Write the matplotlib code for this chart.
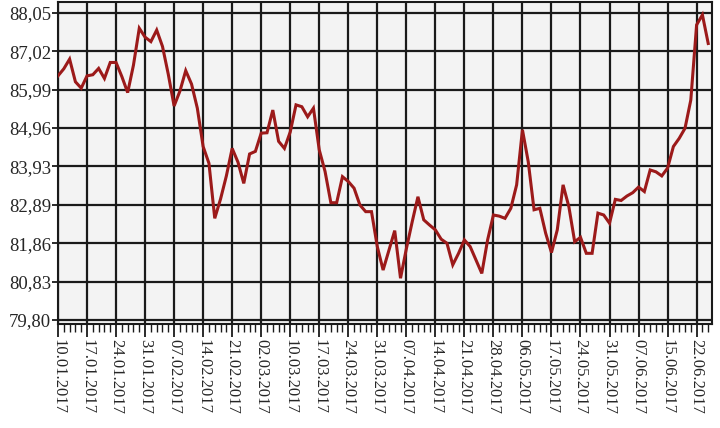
import matplotlib
matplotlib.use("Agg")
import matplotlib.pyplot as plt
from matplotlib.ticker import FixedLocator, MultipleLocator

values = [
    86.36, 86.55, 86.81, 86.20, 86.03, 86.36, 86.39, 86.56, 86.29, 86.72,
    86.72, 86.34, 85.91, 86.65, 87.64, 87.40, 87.28, 87.59, 87.15, 86.40,
    85.55, 85.95, 86.50, 86.14, 85.49, 84.46, 84.01, 82.53, 83.05, 83.67,
    84.41, 84.04, 83.47, 84.26, 84.33, 84.82, 84.83, 85.44, 84.60, 84.41,
    84.85, 85.58, 85.53, 85.26, 85.49, 84.37, 83.79, 82.95, 82.95, 83.65,
    83.52, 83.34, 82.89, 82.71, 82.71, 81.77, 81.14, 81.67, 82.20, 80.92,
    81.71, 82.43, 83.11, 82.49, 82.35, 82.22, 81.97, 81.86, 81.28, 81.59,
    81.95, 81.77, 81.41, 81.05, 81.95, 82.62, 82.59, 82.53, 82.80, 83.43,
    84.91, 84.05, 82.76, 82.80, 82.13, 81.61, 82.22, 83.43, 82.84, 81.90,
    82.02, 81.59, 81.59, 82.67, 82.62, 82.40, 83.04, 83.01, 83.13, 83.22,
    83.37, 83.25, 83.83, 83.78, 83.67, 83.88, 84.46, 84.68, 84.95, 85.71,
    87.73, 88.00, 87.23,
]

date_labels = [
    "10.01.2017", "17.01.2017", "24.01.2017", "31.01.2017", "07.02.2017",
    "14.02.2017", "21.02.2017", "02.03.2017", "10.03.2017", "17.03.2017",
    "24.03.2017", "31.03.2017", "07.04.2017", "14.04.2017", "21.04.2017",
    "28.04.2017", "06.05.2017", "17.05.2017", "24.05.2017", "31.05.2017",
    "07.06.2017", "15.06.2017", "22.06.2017",
]
label_step = 5

y_ticks = [79.80, 80.83, 81.86, 82.89, 83.93, 84.96, 85.99, 87.02, 88.05]
y_tick_labels = ["79,80", "80,83", "81,86", "82,89", "83,93", "84,96",
                 "85,99", "87,02", "88,05"]

fig = plt.figure(figsize=(7.2, 4.28), dpi=100)
ax = fig.add_axes([58 / 720, 1 - 324 / 428, (711.7 - 58) / 720, (324 - 2) / 428])
ax.set_facecolor("#F3F3F3")

x = list(range(len(values)))
major_pos = [i * label_step for i in range(len(date_labels))]

ax.set_xlim(0, 112.6)
ax.set_ylim(79.69, 88.345)

ax.xaxis.set_major_locator(FixedLocator(major_pos))
ax.xaxis.set_minor_locator(MultipleLocator(1))
ax.set_xticklabels(date_labels, rotation=-90, ha="center", va="top",
                   family="Liberation Serif", fontsize=12, color="#262626")
ax.yaxis.set_major_locator(FixedLocator(y_ticks))
ax.set_yticklabels(y_tick_labels, family="Liberation Serif", fontsize=13.5,
                   color="#262626")

ax.grid(True, which="major", color="#1a1a1a", linewidth=1.6)
ax.set_axisbelow(True)

ax.plot(x, values, color="#9C1A1A", linewidth=2.2, zorder=3,
        solid_joinstyle="miter")

for s in ax.spines.values():
    s.set_color("#1a1a1a")
    s.set_linewidth(1.5)

ax.tick_params(axis="x", which="major", length=9, width=1.3, color="#1a1a1a", pad=2)
ax.tick_params(axis="x", which="minor", length=6, width=1.0, color="#1a1a1a")
ax.tick_params(axis="y", which="major", length=4, width=1.3, color="#1a1a1a", pad=1)

fig.savefig("out.png", dpi=100, facecolor="white")
